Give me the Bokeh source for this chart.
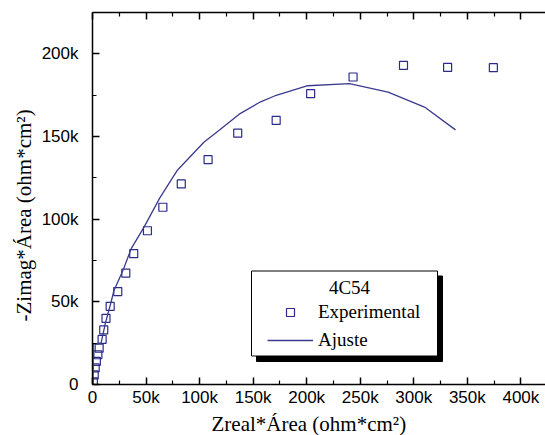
from bokeh.plotting import figure
from bokeh.models import (Range1d, LinearAxis, NumeralTickFormatter, Legend, LegendItem,
                          FixedTicker, Label, Title)
from bokeh.embed import file_html
from bokeh.resources import INLINE

# ---- data (ohm*cm^2) ----
exp_x = [374300, 331600, 290400, 243300, 203700, 171500, 135600, 107900, 82900, 65700,
         51300, 38500, 31100, 23600, 16500, 12600, 10500, 9000, 6200, 5000, 3600, 2500, 1600, 800]
exp_y = [191600, 191800, 193000, 186000, 175900, 159700, 152000, 136000, 121300, 107200,
         93000, 79100, 67400, 56200, 47300, 40000, 33000, 27300, 22000, 18000, 14000, 10000, 5800, 1600]

fit_x = [500, 600, 8000, 12000, 17000, 20000, 29000, 36000, 48000, 63000, 79000, 104000,
         118000, 137000, 157000, 170000, 201000, 240000, 276000, 310000, 339000]
fit_y = [0, 24500, 25000, 37000, 49000, 56700, 69800, 82000, 95000, 113000, 129400, 146500,
         153600, 163500, 171000, 174500, 180700, 182000, 176800, 167800, 154000]

x_ticks = [0, 50000, 100000, 150000, 200000, 250000, 300000, 350000, 400000]
y_ticks = [0, 50000, 100000, 150000, 200000]

legend_title = "4C54"
exp_label = "Experimental"
fit_label = "Ajuste"
x_title = "Zreal*\u00c1rea (ohm*cm\u00b2)"
y_title = "-Zimag*\u00c1rea (ohm*cm\u00b2)"

X_MAX = 423000
Y_MAX = 225000

NAVY = "#2b2b8c"
LINE = "#3b3b90"

W, H = 545, 435
FL, FT, FB = 92, 12, 51   # frame borders (px)

p = figure(width=W, height=H, output_backend="svg", toolbar_location=None,
           x_range=Range1d(0, X_MAX), y_range=Range1d(0, Y_MAX),
           min_border_left=FL, min_border_right=0, min_border_top=FT, min_border_bottom=FB)
p.outline_line_color = None
p.grid.visible = False
p.background_fill_color = "white"
p.border_fill_color = "white"

# helpers to convert pixel geometry of decorations into data coordinates
frame_w = W - FL
frame_h = H - FT - FB
def px2x(px):
    return (px - FL) / frame_w * X_MAX
def py2y(py):
    return (H - FB - py) / frame_h * Y_MAX

# legend frame: shadow + white box with border
p.quad(left=[px2x(256)], right=[px2x(442)], top=[py2y(275.5)], bottom=[py2y(361)],
       fill_color="black", line_color="black")
p.quad(left=[px2x(251)], right=[px2x(437)], top=[py2y(270.5)], bottom=[py2y(355.5)],
       fill_color="white", line_color="black", line_width=1)

r_exp = p.scatter(exp_x, exp_y, marker="square", size=8, fill_color=None,
                  line_color=NAVY, line_width=1.2)
r_fit = p.line(fit_x, fit_y, line_color=LINE, line_width=1.3)

for ax in (p.xaxis[0], p.yaxis[0]):
    ax.axis_line_width = 1.5
    ax.major_tick_line_width = 1.5
    ax.minor_tick_line_width = 1.2
    ax.major_tick_in = 7
    ax.major_tick_out = 0
    ax.minor_tick_in = 4
    ax.minor_tick_out = 0
    ax.major_label_text_font = "Liberation Sans"
    ax.major_label_text_font_size = "17px"
    ax.major_label_text_color = "black"
    ax.formatter = NumeralTickFormatter(format="0a")

p.xaxis[0].ticker = FixedTicker(ticks=x_ticks, minor_ticks=[t + 25000 for t in x_ticks])
p.yaxis[0].ticker = FixedTicker(ticks=y_ticks, minor_ticks=[t + 25000 for t in y_ticks])
p.xaxis[0].major_label_standoff = 3
p.yaxis[0].major_label_standoff = 14

top = LinearAxis(ticker=FixedTicker(ticks=x_ticks, minor_ticks=[t + 25000 for t in x_ticks]))
top.axis_line_width = 1.5
top.major_tick_line_width = 1.5
top.minor_tick_line_width = 1.2
top.major_tick_in = 7
top.major_tick_out = 0
top.minor_tick_in = 4
top.minor_tick_out = 0
top.major_label_text_font_size = "0px"
top.major_label_standoff = 0
top.major_label_text_color = None
p.add_layout(top, "above")

# axis titles (offset as in the cropped original)
p.add_layout(Title(text=x_title, align="left", offset=119, standoff=0,
                   text_font="Liberation Serif", text_font_size="21px",
                   text_font_style="normal", text_color="black"), "below")
p.add_layout(Title(text=y_title, align="left", offset=63, standoff=6,
                   text_font="Liberation Serif", text_font_size="21px",
                   text_font_style="normal", text_color="black"), "left")

# legend title
p.add_layout(Label(x=px2x(349), y=py2y(287), text=legend_title, text_align="center",
                   text_baseline="middle", text_font="Liberation Serif",
                   text_font_size="19px", text_color="black"))

legend = Legend(items=[LegendItem(label=exp_label, renderers=[r_exp]),
                       LegendItem(label=fit_label, renderers=[r_fit])])
legend.location = (267 - FL, (H - FB) - 351)
legend.label_text_font = "Liberation Serif"
legend.label_text_font_size = "19px"
legend.label_text_color = "black"
legend.glyph_width = 46
legend.glyph_height = 20
legend.label_height = 20
legend.label_standoff = 5
legend.spacing = 6
legend.padding = 0
legend.margin = 0
legend.border_line_color = None
legend.background_fill_alpha = 0.0
p.add_layout(legend, "center")

open("out.html", "w").write(file_html(p, INLINE))
